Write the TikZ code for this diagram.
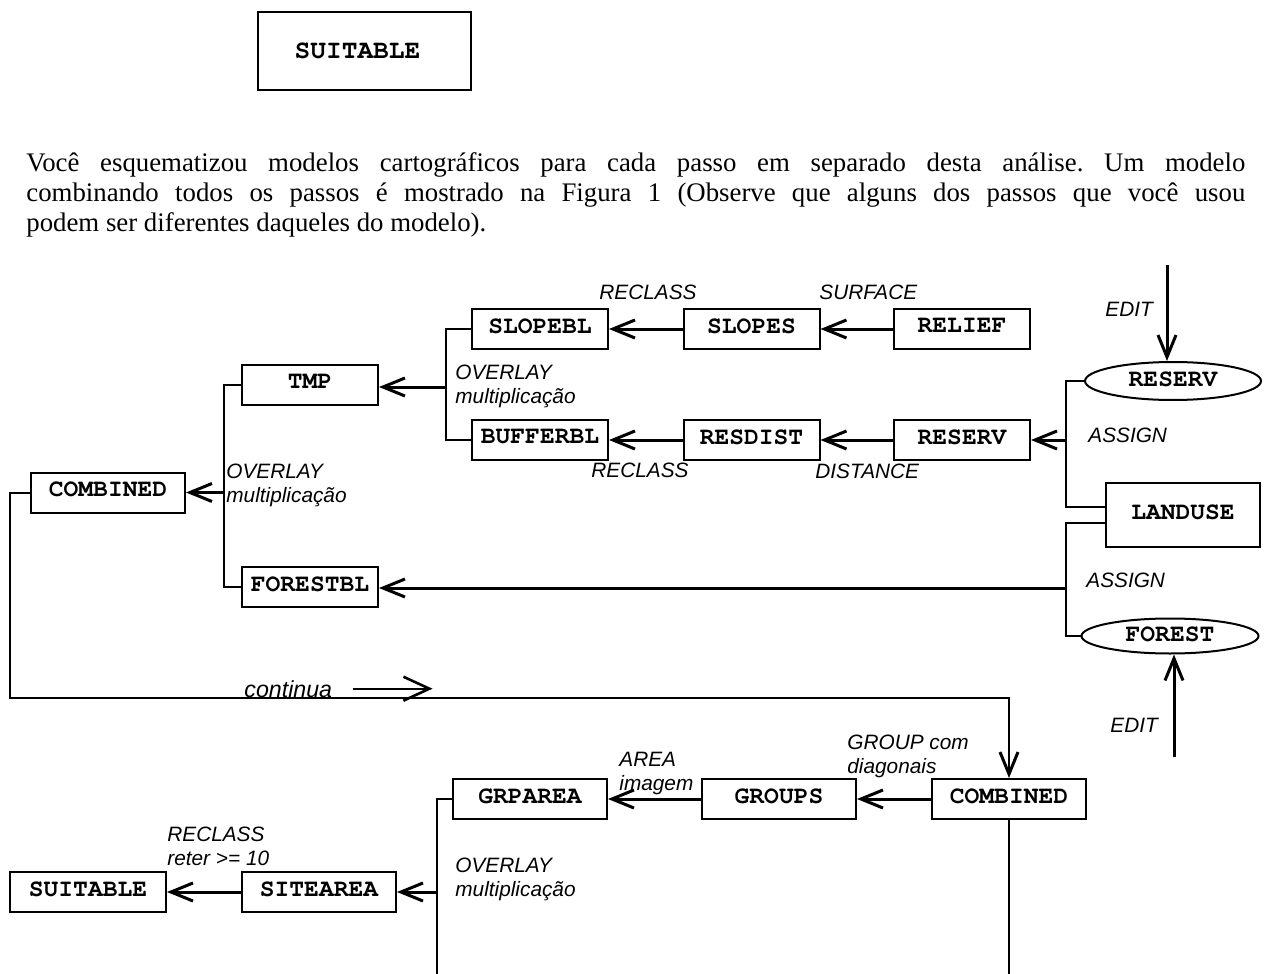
\documentclass[tikz,border=0pt]{standalone}
\usepackage[T1]{fontenc}
\usepackage{fontspec}
\setmainfont{Liberation Serif}
\newfontfamily\labfont{Liberation Sans}
\newcommand\mapfont{\fontencoding{T1}\fontfamily{pcr}\fontseries{b}\fontshape{n}}
\usetikzlibrary{arrows.meta,shapes.geometric}

\begin{document}
\begin{tikzpicture}[x=0.5pt,y=-0.5pt,
  mapbox/.style={draw, line width=1pt, rectangle, inner sep=0pt,
    minimum height=20pt, text depth=3pt,
    font=\mapfont\fontsize{12.3}{14}\selectfont},
  narrow/.style={mapbox, minimum width=68pt},
  wide/.style={mapbox, minimum width=77pt},
  ovalmap/.style={draw, ellipse, line width=1pt, inner sep=0pt, text depth=2pt,
    font=\mapfont\fontsize{12.3}{14}\selectfont},
  op/.style={font=\labfont\itshape\fontsize{10.4}{12}\selectfont,
    inner sep=0pt, anchor=north west, align=left},
  link/.style={line width=1pt},
  flow/.style={line width=1.5pt, -{Straight Barb[length=11pt,width=9pt]}}]

\useasboundingbox (0,0) rectangle (1270,974);
\fill[white] (0,0) rectangle (1270,974);

% final map shown at the head of the page
\node[mapbox, minimum width=106.5pt, minimum height=39pt, text depth=0pt,
  font=\mapfont\fontsize{13.1}{15}\selectfont] (suitA) at (364.5,51) {SUITABLE\kern7pt};

% introductory paragraph
\node[anchor=base west, inner sep=0pt, font=\fontsize{13.4}{15}\selectfont\frenchspacing] (para) at (26,172)
 {\vtop{%
   \hbox to 609.5pt{Você esquematizou modelos cartográficos para cada passo em separado desta análise. Um modelo}%
   \hbox to 609.5pt{combinando todos os passos é mostrado na Figura 1 (Observe que alguns dos passos que você usou}%
   \hbox{podem ser diferentes daqueles do modelo).}}};

% ---------- first part of the model ----------
\node[narrow] (relief)   at (962,329)   {RELIEF};
\node[narrow] (slopes)   at (751.5,329) {SLOPES};
\node[narrow] (slopebl)  at (540,329)   {SLOPEBL};
\node[narrow] (reservb)  at (962,440)   {RESERV};
\node[narrow] (resdist)  at (751.5,440) {RESDIST};
\node[narrow] (bufferbl) at (540,440)   {BUFFERBL};
\node[narrow] (tmp)      at (310,385)   {TMP};
\node[narrow] (forestbl) at (310,587)   {FORESTBL};
\node[wide]   (combA)    at (108,492.5) {COMBINED};
\node[wide, minimum height=32pt] (landuse) at (1183,515) {LANDUSE};
\node[ovalmap, minimum width=88pt, minimum height=19pt] (reservE) at (1173,381) {RESERV};
\node[ovalmap, minimum width=88.5pt, minimum height=17.5pt] (forestE) at (1170,636) {FOREST};

% slope branch
\draw[flow] (relief) -- (slopes);
\draw[flow] (slopes) -- (slopebl);
% distance branch
\draw[flow] (reservb) -- (resdist);
\draw[flow] (resdist) -- (bufferbl);

% overlay of slope and buffer ratings
\draw[link] (slopebl.west) -- ++(-25,0) |- (bufferbl.west);
\coordinate (jA) at (447,387);
\draw[flow] (jA) -- (jA -| tmp.east);

% overlay of tmp and forest rating
\draw[link] (tmp.west) -- ++(-17,0) |- (forestbl.west);
\coordinate (jB) at (225,492.5);
\draw[flow] (jB) -- (combA.east);

% reserve assignment from land use
\draw[link] (reservE.west) -- ++(-18,0) |- ([yshift=4pt]landuse.west);
\coordinate (jC) at (1067,440);
\draw[flow] (jC) -- (reservb.east);

% forest assignment from land use
\draw[link] ([yshift=-4pt]landuse.west) -- ++(-39,0) |- (forestE.west);
\coordinate (jD) at (1067,588);
\draw[flow] (jD) -- (jD -| forestbl.east);

% edits
\coordinate (editA) at (1167,265);
\draw[flow] (editA) -- (editA |- reservE.north);
\coordinate (editB) at (1174,757);
\draw[flow] (editB) -- (editB |- forestE.south);

% labels of the first part
\node[op] (l1)  at (599,285)  {RECLASS};
\node[op] (l2)  at (819,285)  {SURFACE};
\node[op] (l3)  at (1105,302) {EDIT};
\node[op] (l4)  at (455,365)  {OVERLAY\\multiplicação};
\node[op] (l5)  at (1088,428) {ASSIGN};
\node[op] (l6)  at (591,463)  {RECLASS};
\node[op] (l7)  at (815,464)  {DISTANCE};
\node[op] (l8)  at (226,464)  {OVERLAY\\multiplicação};
\node[op] (l9)  at (1086,573) {ASSIGN};
\node[op] (l10) at (1110,718) {EDIT};

% ---------- continuation ----------
\node[wide] (combB)    at (1009,799) {COMBINED};
\node[wide] (groups)   at (779,799)  {GROUPS};
\node[wide] (grparea)  at (530,799)  {GRPAREA};
\node[wide] (sitearea) at (319,892)  {SITEAREA};
\node[wide, minimum width=78pt] (suitB) at (88,892) {SUITABLE};

\coordinate (turn) at (1009,698);
\draw[link, -{Straight Barb[length=11pt,width=9pt,line width=1.5pt]}]
  (combA.west) -- ++(-20,0) |- (turn) -- (combB.north);

\node[op, anchor=base west, font=\labfont\itshape\fontsize{11.6}{13}\selectfont] (cont) at (244,697) {continua};
\draw[link, -{Straight Barb[length=13pt,width=12pt,line width=1.3pt]}]
  ([xshift=10pt]cont.east) -- ++(80,0);

\draw[flow] (combB) -- (groups);
\draw[flow] (groups) -- (grparea);
\coordinate (bot1) at (1009,974);
\draw[link] (combB.south) -- (bot1);
\coordinate (bot2) at (437,974);
\draw[link] (grparea.west) -| (bot2);
\coordinate (jE) at (437,892);
\draw[flow] (jE) -- (sitearea.east);
\draw[flow] (sitearea) -- (suitB);

% labels of the continuation
\node[op] (l11) at (847,735) {GROUP com\\diagonais};
\node[op] (l12) at (619,752) {AREA\\imagem};
\node[op] (l13) at (167,827) {RECLASS\\reter >= 10};
\node[op] (l14) at (455,858) {OVERLAY\\multiplicação};

\end{tikzpicture}
\end{document}
